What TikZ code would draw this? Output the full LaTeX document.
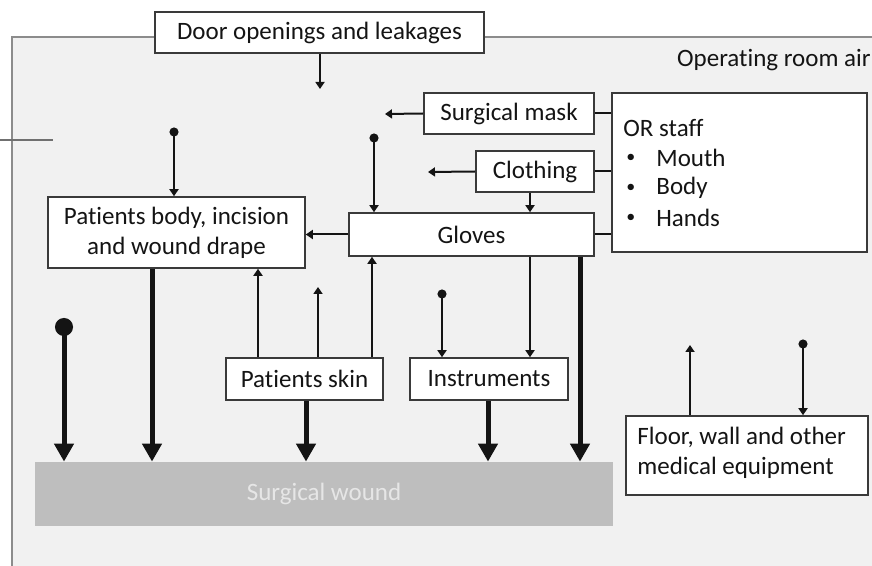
\documentclass[tikz,border=0pt]{standalone}
\usepackage{fontspec}
\setmainfont{Carlito}[Ligatures=NoCommon]
\usetikzlibrary{arrows.meta,calc}
\definecolor{ink}{HTML}{141414}
\definecolor{boxline}{HTML}{3A3A3A}
\definecolor{panel}{HTML}{F1F1F1}
\definecolor{panelline}{HTML}{8C8C8C}
\definecolor{woundfill}{HTML}{BEBEBE}
\definecolor{woundtext}{HTML}{E6E6E6}
\begin{document}
\begin{tikzpicture}[x=0.5pt,y=-0.5pt,
  font=\fontsize{12.5}{15}\selectfont, text=ink,
  box/.style={draw=boxline, fill=white, line width=0.8pt, inner sep=0pt, align=center},
  txt/.style={inner sep=0pt, text=ink},
  bul/.style={inner sep=0pt, text=ink, font=\fontsize{9}{10}\selectfont},
  thinarr/.style={draw=ink, line width=1pt, -{Triangle[length=3.5pt,width=4.5pt]}},
  thickarr/.style={draw=ink, line width=2.5pt, -{Triangle[length=9pt,width=9.5pt]}},
  dotarr/.style={draw=ink, line width=1pt, {Circle[length=4.5pt]}-{Triangle[length=3.5pt,width=4.5pt]}},
  bigdotarr/.style={draw=ink, line width=2.5pt, {Circle[length=9pt]}-{Triangle[length=9pt,width=9.5pt]}},
  plainline/.style={draw=ink, line width=1pt}]
\useasboundingbox (0,0) rectangle (872,566);
% panel
\fill[panel] (12,37) rectangle (872,566);
\draw[panelline, line width=0.6pt] (12,566) -- (12,37) -- (872,37);
\coordinate (l0) at (0,140);
\coordinate (l1) at (53,140);
\draw[panelline!80!black, line width=0.6pt] (l0) -- (l1);

\node[txt, anchor=base east] (air) at (871,67) {Operating room air};

% boxes
\node[box, minimum width=164.5pt, minimum height=20.5pt] (door) at (319.5,32.5) {Door openings and leakages};
\node[box, minimum width=85pt, minimum height=20.5pt] (mask) at (509,113.5) {Surgical mask};
\node[box, minimum width=59pt, minimum height=20.5pt] (cloth) at (535,171.5) {Clothing};
\node[box, minimum width=122.5pt, minimum height=21.5pt] (gloves) at (471.5,234.5) {Gloves};
\node[box, minimum width=127.5pt, minimum height=79.5pt] (staff) at (739.5,172.5) {};
\node[box, minimum width=128.5pt, minimum height=35.5pt] (body) at (176.5,232.5) {Patients body, incision\\and wound drape};
\node[box, minimum width=78.5pt, minimum height=21pt] (skin) at (304.5,379) {Patients skin};
\node[box, minimum width=79pt, minimum height=21pt] (instr) at (489,379) {Instruments};
\node[box, minimum width=121pt, minimum height=39.5pt] (floor) at (747,455.5) {};
\node[draw=none, fill=woundfill, minimum width=289pt, minimum height=32pt, inner sep=0pt, text=woundtext] (wound) at (324,494) {Surgical wound};

% staff text
\node[txt, anchor=west] (st0) at (623,128) {OR staff};
\node[bul, anchor=west] (b1) at (626,158) {•};
\node[bul, anchor=west] (b2) at (626,188) {•};
\node[bul, anchor=west] (b3) at (626,218) {•};
\node[txt, anchor=west] (st1) at (656,158) {Mouth};
\node[txt, anchor=west] (st2) at (656,188) {Body};
\node[txt, anchor=west] (st3) at (656,218) {Hands};
% floor text
\node[txt, anchor=west, align=left] (fl) at (637,453) {Floor, wall and other\\medical equipment};

% free ends and columns
\coordinate (doorend) at (320,89);
\coordinate (maskend) at (385,114);
\coordinate (clothend) at (428,172);
\coordinate (d1) at (174,127.5);
\coordinate (d2) at (374,133.5);
\coordinate (d3) at (442,289.5);
\coordinate (d4) at (803,339.5);
\coordinate (bd) at (64,318);
\coordinate (skinend) at (318,287);
\coordinate (floorend) at (690,345);
\coordinate (x152) at (152,0);
\coordinate (x258) at (258,0);
\coordinate (x306) at (306,0);
\coordinate (x372) at (372,0);
\coordinate (x488) at (488,0);
\coordinate (x530) at (530,0);
\coordinate (x580) at (580,0);

% connectors
\draw[thinarr] (door.south -| doorend) -- (doorend);
\draw[thinarr] (mask.west) -- (maskend);
\draw[thinarr] (cloth.west) -- (clothend);
\draw[plainline] (mask.east) -- (mask.east -| staff.west);
\draw[plainline] (cloth.east) -- (cloth.east -| staff.west);
\draw[plainline] (gloves.east) -- (gloves.east -| staff.west);
\draw[thinarr] (x530 |- cloth.south) -- (x530 |- gloves.north);
\draw[thinarr] (gloves.west) -- (gloves.west -| body.east);
\draw[dotarr] (d2) -- (d2 |- gloves.north);
\draw[dotarr] (d1) -- (d1 |- body.north);
\draw[thickarr] (x152 |- body.south) -- (x152 |- wound.north);
\draw[bigdotarr] (bd) -- (bd |- wound.north);
\draw[thinarr] (x258 |- skin.north) -- (x258 |- body.south);
\draw[thinarr] (skinend |- skin.north) -- (skinend);
\draw[thinarr] (x372 |- skin.north) -- (x372 |- gloves.south);
\draw[thickarr] (x306 |- skin.south) -- (x306 |- wound.north);
\draw[dotarr] (d3) -- (d3 |- instr.north);
\draw[thinarr] (x530 |- gloves.south) -- (x530 |- instr.north);
\draw[thickarr] (x488 |- instr.south) -- (x488 |- wound.north);
\draw[thickarr] (x580 |- gloves.south) -- (x580 |- wound.north);
\draw[thinarr] (floorend |- floor.north) -- (floorend);
\draw[dotarr] (d4) -- (d4 |- floor.north);
\end{tikzpicture}
\end{document}
